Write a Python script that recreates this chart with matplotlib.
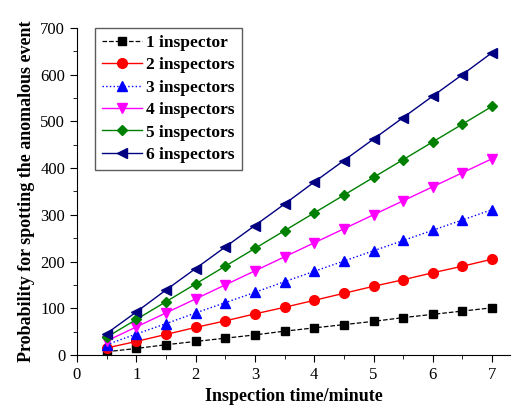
import numpy as np
import matplotlib.pyplot as plt
from matplotlib.ticker import MultipleLocator

# inspection time (minutes)
times = [0.5, 1, 1.5, 2, 2.5, 3, 3.5, 4, 4.5, 5, 5.5, 6, 6.5, 7]

# values
insp1 = [7, 14, 22, 29, 36, 43, 51, 58, 65, 72, 80, 87, 94, 101]
insp2 = [15, 29, 44, 59, 73, 88, 102, 117, 132, 147, 161, 176, 190, 205]
insp3 = [22, 45, 67, 90, 112, 134, 157, 179, 201, 223, 245, 267, 289, 311]
insp4 = [30, 60, 90, 120, 150, 180, 210, 240, 270, 300, 330, 360, 390, 420]
insp5 = [38, 76, 114, 152, 190, 228, 266, 304, 342, 380, 418, 456, 494, 532]
insp6 = [46, 92, 139, 185, 231, 277, 323, 370, 416, 462, 508, 554, 600, 647]

labels = ['1 inspector', '2 inspectors', '3 inspectors',
          '4 inspectors', '5 inspectors', '6 inspectors']

plt.rcParams['font.family'] = ['Liberation Serif', 'DejaVu Serif']

fig = plt.figure(figsize=(5.13, 4.09), dpi=100)
ax = fig.add_axes([0.150, 0.132, 0.844, 0.800])

ax.plot(times, insp1, color='black', ls='--', lw=0.9, marker='s', ms=6, label=labels[0])
ax.plot(times, insp2, color='red', ls='-', lw=1.0, marker='o', ms=7, label=labels[1])
ax.plot(times, insp3, color='blue', ls=':', lw=1.0, marker='^', ms=7, label=labels[2])
ax.plot(times, insp4, color='magenta', ls='-', lw=1.0, marker='v', ms=7, label=labels[3])
ax.plot(times, insp5, color='green', ls='-', lw=1.0, marker='D', ms=5.5, label=labels[4])
ax.plot(times, insp6, color='navy', ls='-', lw=1.0, marker='<', ms=7, label=labels[5])

ax.set_xlim(0, 7.3)
ax.set_ylim(0, 700)
ax.xaxis.set_major_locator(MultipleLocator(1))
ax.xaxis.set_minor_locator(MultipleLocator(0.5))
ax.yaxis.set_major_locator(MultipleLocator(100))
ax.yaxis.set_minor_locator(MultipleLocator(50))
ax.tick_params(which='both', direction='out', labelsize=12)
ax.tick_params(which='major', length=5)
ax.tick_params(which='minor', length=3)

ax.spines['top'].set_visible(False)
ax.spines['right'].set_visible(False)

ax.set_xlabel('Inspection time/minute', fontsize=13, fontweight='bold')
ax.set_ylabel('Probability for spotting the anomalous event', fontsize=13, fontweight='bold')

leg = ax.legend(loc='upper left', bbox_to_anchor=(0.042, 1.0), borderaxespad=0,
                fancybox=False, edgecolor='#333333',
                prop={'weight': 'bold', 'size': 12.5},
                handlelength=2.3, handletextpad=0.25, labelspacing=0.36,
                borderpad=0.4)
leg.get_frame().set_linewidth(1.0)

fig.savefig('out.png', dpi=100)
